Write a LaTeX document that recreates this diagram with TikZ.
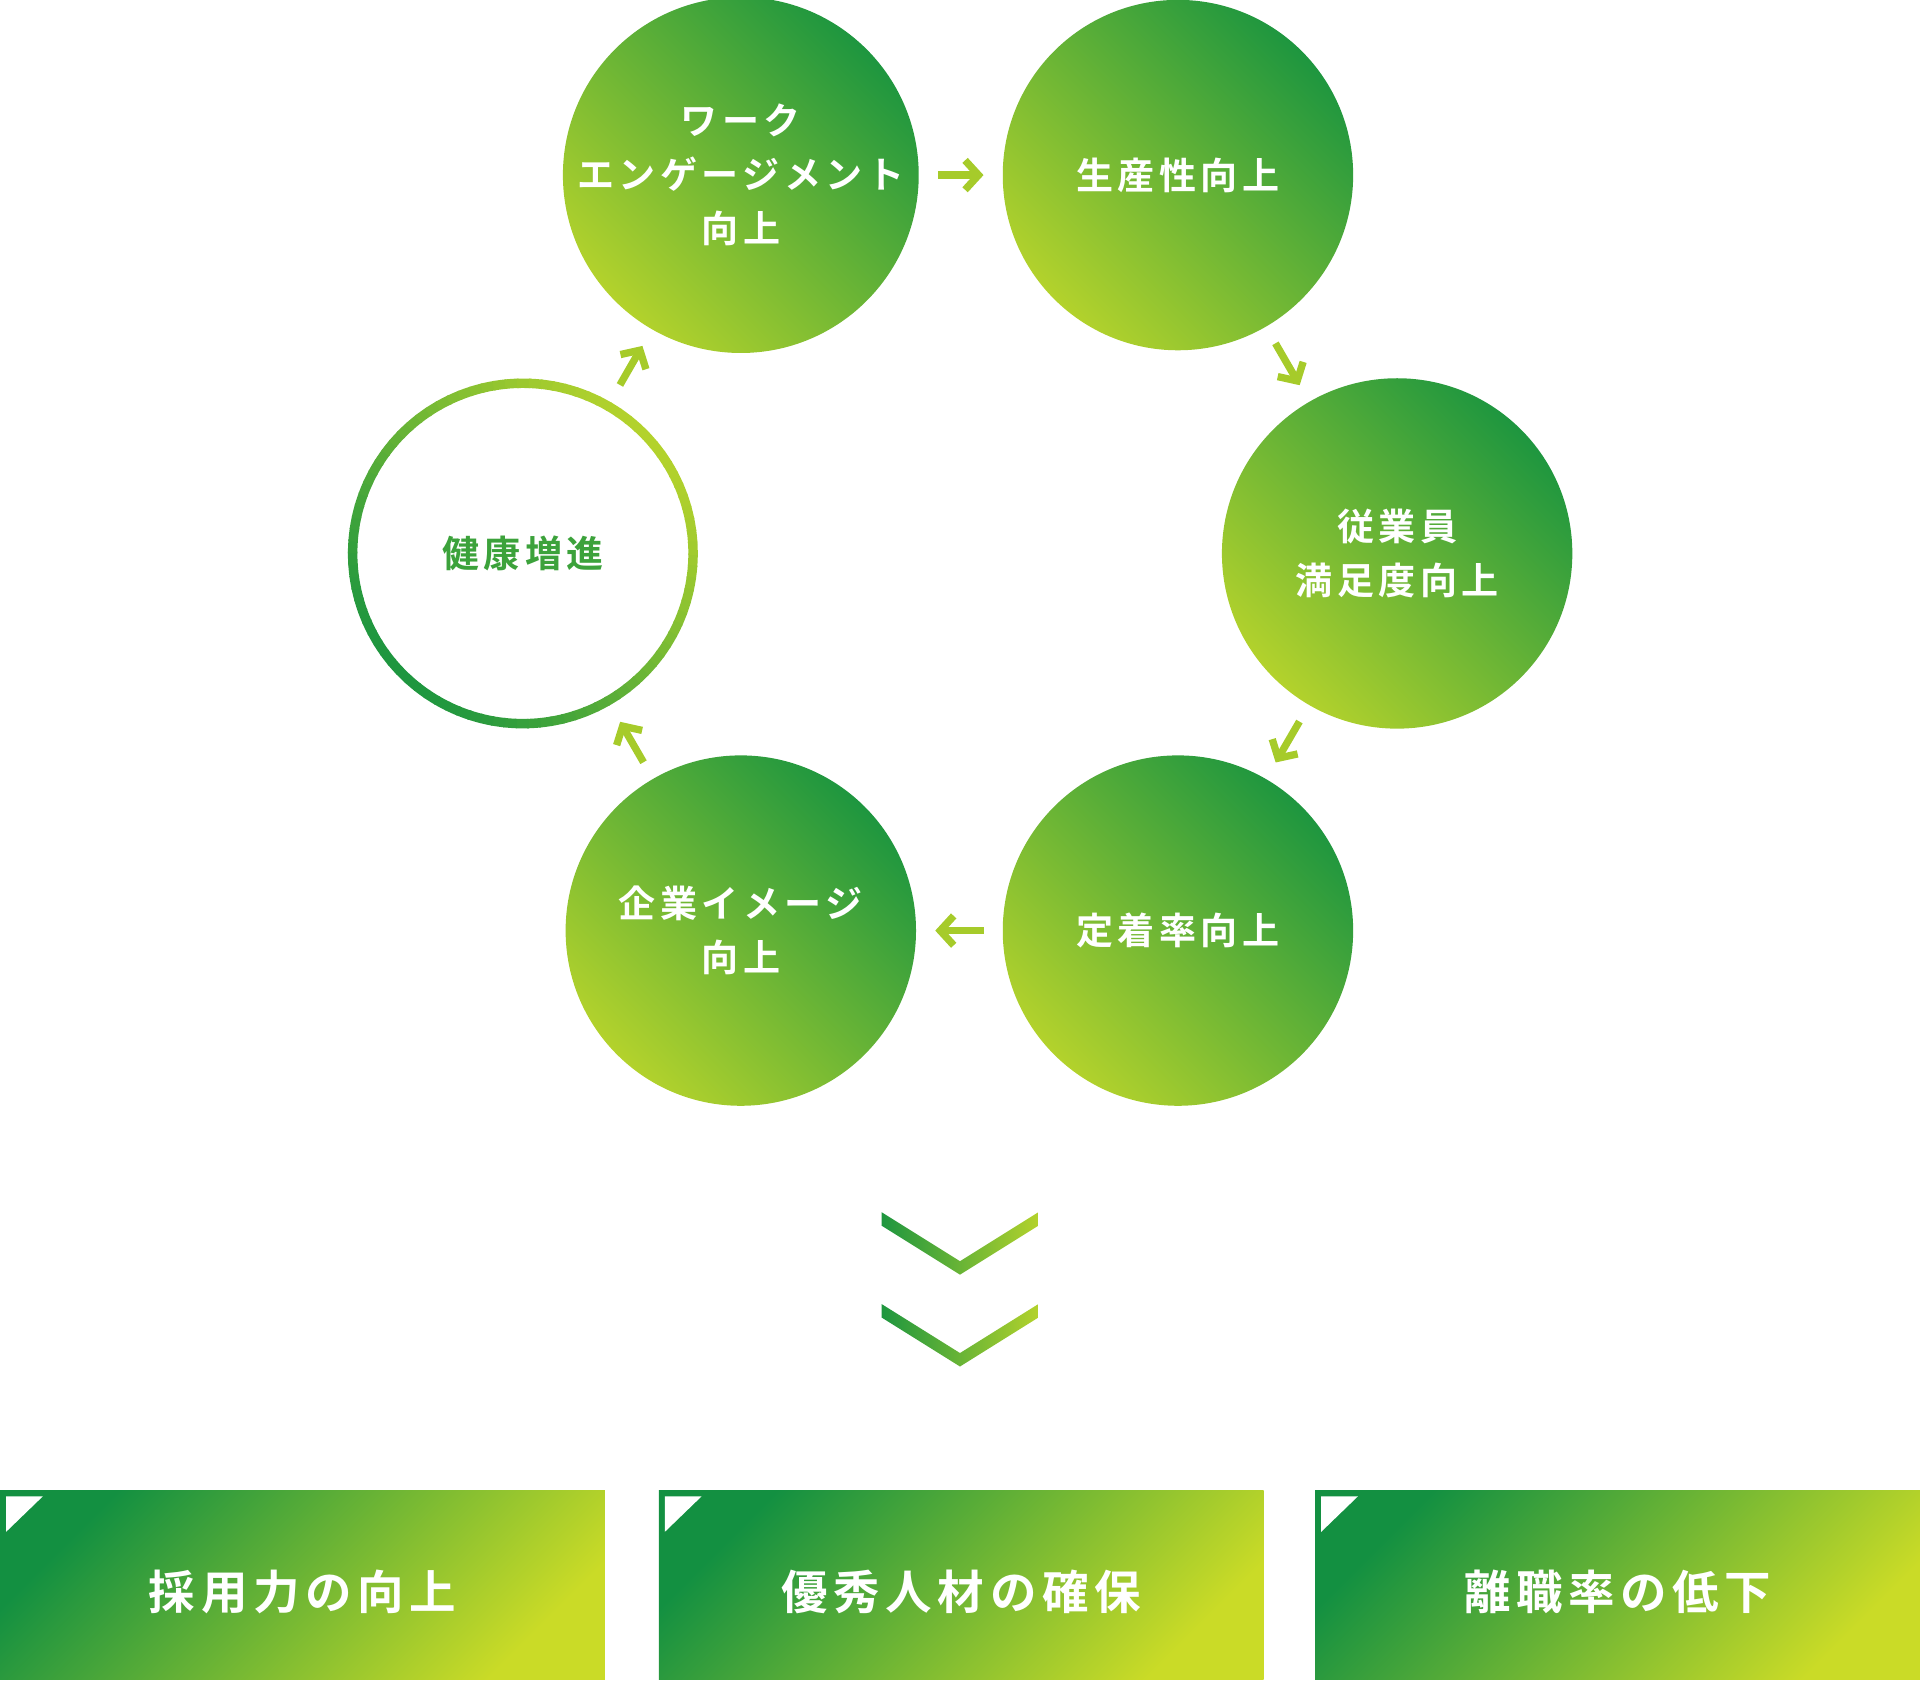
\documentclass[tikz,border=0pt]{standalone}
\usepackage{fontspec}
\setmainfont{Noto Sans CJK JP Bold}[LetterSpace=12]
\usetikzlibrary{arrows.meta}
\definecolor{gdark}{HTML}{1E963F}
\definecolor{glight}{HTML}{B3D22C}
\definecolor{bdark}{HTML}{139041}
\definecolor{blight}{HTML}{CADB27}
\definecolor{arrowgreen}{HTML}{A6CB2A}
\tikzset{
  stage/.style={circle, minimum size=2.86cm, inner sep=0pt, align=center,
    left color=gdark, right color=glight, shading angle=-45,
    text=white, font=\fontsize{8.6}{12.5}\selectfont},
  cycle/.style={draw=arrowgreen, line width=1.7pt, -{Straight Barb[length=1.1mm,width=2.4mm]},
    shorten <=0.15cm, shorten >=0.15cm},
  result/.style={left color=bdark, right color=blight, shading angle=45},
  resulttext/.style={text=white, font=\fontsize{10.8}{13}\selectfont}
}
\begin{document}
\begin{tikzpicture}[x=0.01cm, y=-0.01cm]
  \useasboundingbox (0,0) rectangle (1568,1374);
  % the cycle
  \node[stage] (work) at (605,143) {ワーク\\エンゲージメント\\向上};
  \node[stage] (prod) at (962,143) {生産性向上};
  \node[stage] (satis) at (1141,452) {従業員\\満足度向上};
  \node[stage] (stay) at (962,760) {定着率向上};
  \node[stage] (image) at (605,760) {企業イメージ\\向上};
  \node[circle, minimum size=2.86cm, inner sep=0pt, text=gdark!80!glight,
    font=\fontsize{8.6}{12.5}\selectfont] (health) at (427,452) {健康増進};
  % ring with its gradient
  \foreach \a in {0,4,...,356} {
    \pgfmathsetmacro{\mixv}{50+50*cos(\a+45)}
    \draw[line width=2.2pt, color=glight!\mixv!gdark]
      (health.center) ++(\a:139) arc[start angle=\a, end angle=\a+4.6, radius=139];
  }
  % arrows
  \draw[cycle] (work) -- (prod);
  \draw[cycle] (prod) -- (satis);
  \draw[cycle] (satis) -- (stay);
  \draw[cycle] (stay) -- (image);
  \draw[cycle] (image) -- (health);
  \draw[cycle] (health) -- (work);
  % chevrons
  \foreach \y in {990,1065} {
    \shade[left color=gdark, right color=glight]
      (720,\y) -- (784,\y+40) -- (848,\y) -- (848,\y+11) -- (784,\y+51) -- (720,\y+11) -- cycle;
  }
  % results
  \foreach \x/\name/\txt in {0/hire/採用力の向上, 538/talent/優秀人材の確保, 1074/turnover/離職率の低下} {
    \shade[result] (\x,1217) rectangle (\x+494,1372);
    \fill[white] (\x+5,1222) -- (\x+35,1222) -- (\x+5,1251) -- cycle;
    \node[resulttext] (\name) at (\x+247,1300) {\txt};
  }
\end{tikzpicture}
\end{document}
